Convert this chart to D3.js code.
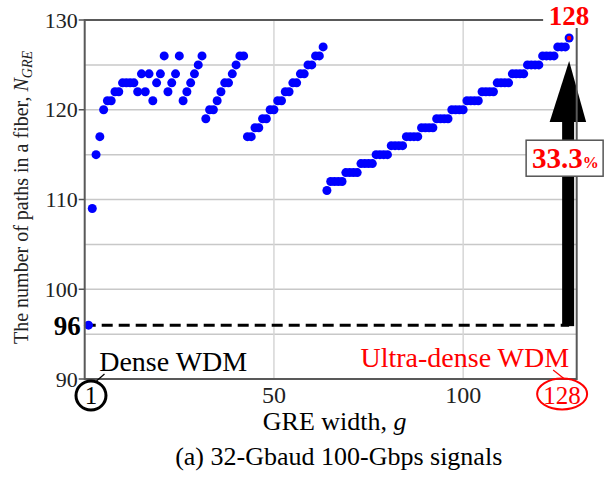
<!DOCTYPE html>
<meta charset="utf-8">
<head>
  <style>
    body {margin: 0; background-color: #ffffff;}
    text {font-family: "Liberation Serif", serif;}
  </style>
  <title></title>
</head>
<body>
<script src="https://d3js.org/d3.v7.min.js"></script>
<script>

// number of paths in a fiber N_GRE, for GRE width g = 1, 2, ... 128
const nGre = [
  96, 109, 115, 117, 120, 121, 121, 122, 122, 123,
  123, 123, 123, 122, 124, 122, 124, 121, 123, 124,
  126, 122, 123, 124, 126, 121, 122, 123, 124, 125,
  126, 119, 120, 120, 121, 122, 123, 123, 124, 125,
  126, 126, 117, 117, 118, 118, 119, 119, 120, 120,
  121, 121, 122, 122, 123, 123, 124, 124, 125, 125,
  126, 126, 127, 111, 112, 112, 112, 112, 113, 113,
  113, 113, 114, 114, 114, 114, 115, 115, 115, 115,
  116, 116, 116, 116, 117, 117, 117, 117, 118, 118,
  118, 118, 119, 119, 119, 119, 120, 120, 120, 120,
  121, 121, 121, 121, 122, 122, 122, 122, 123, 123,
  123, 123, 124, 124, 124, 124, 125, 125, 125, 125,
  126, 126, 126, 126, 127, 127, 127, 128
];
const yTicks = [90, 100, 110, 120, 130];
const yGrid = [95, 100, 105, 110, 115, 120, 125];
const xGrid = [50, 100];
const xTicks = [50, 100];
const gDense = 1, gUltra = 128;
const nDense = 96, nUltra = 128;
const gainText = "33.3";

const margin = {top: 20, right: 28.3, bottom: 98, left: 84.7},
  width = 605 - margin.left - margin.right,
  height = 477 - margin.top - margin.bottom;

var root = d3.select("body")
  .append("svg")
    .attr("width", width + margin.left + margin.right)
    .attr("height", height + margin.top + margin.bottom);
root.append("rect").attr("width", 605).attr("height", 477).attr("fill", "#fff");

var svg = root.append("g")
    .attr("transform", "translate(" + margin.left + "," + margin.top + ")");

var xScale = d3.scaleLinear().domain([0, 130]).range([0, width]);
var yScale = d3.scaleLinear().domain([90, 130]).range([height, 0]);

// grid
svg.selectAll(".hgrid").data(yGrid).enter().append("line")
  .attr("x1", 0).attr("x2", width)
  .attr("y1", d => yScale(d)).attr("y2", d => yScale(d))
  .style("stroke", "#c8c8c8").style("stroke-width", 1.5);
svg.selectAll(".vgrid").data(xGrid).enter().append("line")
  .attr("x1", d => xScale(d)).attr("x2", d => xScale(d))
  .attr("y1", 0).attr("y2", height)
  .style("stroke", "#d6d6d6").style("stroke-width", 1.5);

// y ticks
svg.selectAll(".ytick").data(yTicks).enter().append("line")
  .attr("x1", -6).attr("x2", 0)
  .attr("y1", d => yScale(d)).attr("y2", d => yScale(d))
  .style("stroke", "#555").style("stroke-width", 1.5);

// 96 baseline (dashed)
svg.append("line")
  .attr("x1", 0).attr("x2", xScale(gUltra))
  .attr("y1", yScale(nDense)).attr("y2", yScale(nDense))
  .style("stroke", "#000").style("stroke-width", 3)
  .style("stroke-dasharray", "11,6");

// big arrow
var ax = xScale(gUltra);
var tipY = yScale(nUltra) + 23;
svg.append("rect")
  .attr("x", ax - 7).attr("y", tipY + 58)
  .attr("width", 12).attr("height", yScale(nDense) + 1 - tipY - 58)
  .attr("fill", "#000");
svg.append("path")
  .attr("d", "M" + (ax - 19.5) + "," + (tipY + 61) + "L" + (ax + 17) + "," + (tipY + 61) + "L" + ax + "," + tipY + "Z")
  .attr("fill", "#000");

// dots
svg.append("g").selectAll("circle")
  .data(nGre.map((v, i) => [i + 1, v]))
  .enter().append("circle")
    .attr("cx", d => xScale(d[0]))
    .attr("cy", d => yScale(d[1]))
    .attr("r", 4.5)
    .attr("fill", "#0000ff");
svg.append("circle")
  .attr("cx", xScale(gUltra)).attr("cy", yScale(nUltra))
  .attr("r", 2.2).attr("fill", "#ff0000");

// frame
svg.append("rect")
  .attr("x", 0).attr("y", 0).attr("width", width).attr("height", height)
  .attr("fill", "none").style("stroke", "#595959").style("stroke-width", 2);

// y tick labels
svg.selectAll(".ylab").data(yTicks).enter().append("text")
  .attr("x", -7).attr("y", d => yScale(d)).attr("dy", "0.35em")
  .attr("text-anchor", "end")
  .style("font-size", "22px").attr("fill", "#222")
  .text(d => d);
svg.append("text")
  .attr("x", -4).attr("y", yScale(nDense)).attr("dy", "0.36em")
  .attr("text-anchor", "end")
  .style("font-size", "27px").style("font-weight", "bold")
  .text(nDense);

// x tick labels
svg.selectAll(".xlab").data(xTicks).enter().append("text")
  .attr("x", d => xScale(d)).attr("y", height + 24)
  .attr("text-anchor", "middle")
  .style("font-size", "24px").attr("fill", "#222")
  .text(d => d);

// g = 1 circled
svg.append("ellipse")
  .attr("cx", xScale(gDense) + 2.5).attr("cy", height + 16.5)
  .attr("rx", 15).attr("ry", 14.5)
  .attr("fill", "#fff").style("stroke", "#000").style("stroke-width", 3);
svg.append("text")
  .attr("x", xScale(gDense) + 2.5).attr("y", height + 25)
  .attr("text-anchor", "middle").style("font-size", "25px")
  .text(gDense);
svg.append("line")
  .attr("x1", xScale(gDense) + 8).attr("y1", height + 2)
  .attr("x2", xScale(gDense) + 16).attr("y2", height - 5)
  .style("stroke", "#000").style("stroke-width", 1.2);
svg.append("text")
  .attr("x", 14.5).attr("y", height - 8)
  .style("font-size", "28px")
  .text("Dense WDM");

// g = 128 circled
svg.append("ellipse")
  .attr("cx", xScale(gUltra) - 7).attr("cy", height + 15)
  .attr("rx", 25).attr("ry", 15.5)
  .attr("fill", "none").style("stroke", "#ff0000").style("stroke-width", 2);
svg.append("text")
  .attr("x", xScale(gUltra) - 7).attr("y", height + 25)
  .attr("text-anchor", "middle").style("font-size", "25px").attr("fill", "#ff0000")
  .text(gUltra);
svg.append("line")
  .attr("x1", xScale(gUltra) - 16).attr("y1", height - 9)
  .attr("x2", xScale(gUltra) - 4).attr("y2", height + 0.5)
  .style("stroke", "#ff0000").style("stroke-width", 1.2);
svg.append("text")
  .attr("x", xScale(gUltra)).attr("y", height - 12)
  .attr("text-anchor", "end")
  .style("font-size", "28px").attr("fill", "#ff0000")
  .text("Ultra-dense WDM");

// 128 on top
svg.append("rect")
  .attr("x", xScale(gUltra) - 26).attr("y", -20)
  .attr("width", 52).attr("height", 28).attr("fill", "#fff");
svg.append("text")
  .attr("x", xScale(gUltra)).attr("y", 4.5)
  .attr("text-anchor", "middle")
  .style("font-size", "27px").style("font-weight", "bold").attr("fill", "#ff0000")
  .text(nUltra);

// gain box
var by = yScale(114.6);
svg.append("rect")
  .attr("x", ax - 43).attr("y", by - 18)
  .attr("width", 77).attr("height", 36)
  .attr("fill", "#fff").style("stroke", "#555").style("stroke-width", 1.5);
var gt = svg.append("text")
  .attr("x", ax - 37).attr("y", by + 9.5)
  .attr("fill", "#ff0000").style("font-weight", "bold");
gt.append("tspan").style("font-size", "29px").text(gainText);
gt.append("tspan").style("font-size", "16px").text("%");

// axis titles
svg.append("text")
  .attr("x", width / 2 + 4).attr("y", height + 51)
  .attr("text-anchor", "middle").style("font-size", "26px")
  .html("GRE width, <tspan font-style='italic'>g</tspan>");

svg.append("text")
  .attr("x", width / 2 + 8).attr("y", height + 86)
  .attr("text-anchor", "middle").style("font-size", "26px")
  .text("(a) 32-Gbaud 100-Gbps signals");

var yl = svg.append("text")
  .attr("transform", "translate(" + (-margin.left + 28) + "," + (yScale(110) - 2) + ") rotate(-90)")
  .attr("text-anchor", "middle").style("font-size", "20px").attr("fill", "#222");
yl.append("tspan").text("The number of paths in a fiber, ");
yl.append("tspan").style("font-style", "italic").text("N");
yl.append("tspan").style("font-style", "italic").style("font-size", "14px").attr("dy", 4).text("GRE");

</script>
</body>
</html>
